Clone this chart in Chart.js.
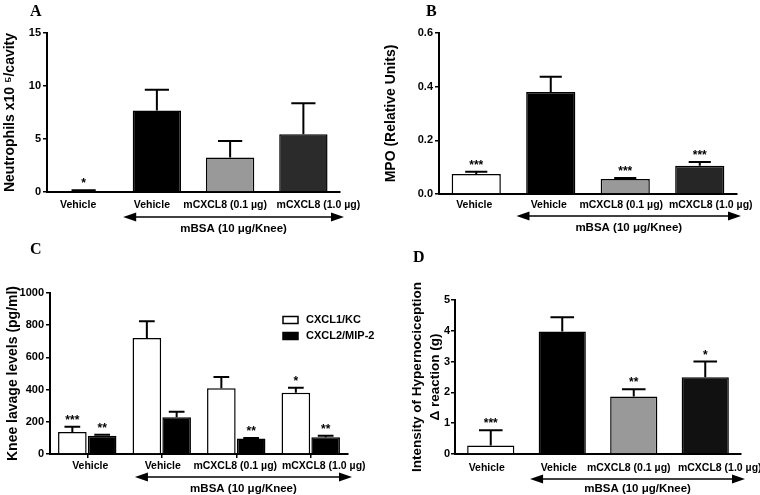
<!DOCTYPE html>
<html lang="en">
<head>
  <meta charset="UTF-8" />
  <title>mCXCL8 panels</title>
  <script src="https://cdn.jsdelivr.net/npm/chart.js"></script>
  <style>
    html, body { margin: 0; padding: 0; background: #fff; }
    #wrap { position: relative; width: 760px; height: 495px; }
    canvas { position: absolute; display: block; }
  </style>
</head>
<body>
  <div id="wrap">
    <canvas id="chartA" width="380" height="240" style="left:0;top:0"></canvas>
    <canvas id="chartB" width="380" height="240" style="left:380px;top:0"></canvas>
    <canvas id="chartC" width="380" height="255" style="left:0;top:240px"></canvas>
    <canvas id="chartD" width="380" height="255" style="left:380px;top:240px"></canvas>
  </div>

  <script>
    // categories
    const groups = ['Vehicle', 'Vehicle', 'mCXCL8 (0.1 µg)', 'mCXCL8 (1.0 µg)'];
    const treatment = 'mBSA (10 μg/Knee)';

    // A - neutrophils
    const neutrophils = [0.05, 7.7, 3.25, 5.45];
    const neutrophilsErr = [0.11, 1.95, 1.57, 2.93];
    const neutrophilsStars = ['*', '', '', ''];

    // B - MPO
    const mpo = [0.075, 0.38, 0.056, 0.105];
    const mpoErr = [0.008, 0.057, 0.004, 0.014];
    const mpoStars = ['***', '', '***', '***'];

    // C - chemokines
    const kc = [137, 720, 408, 380];
    const kcErr = [33, 105, 70, 32];
    const kcStars = ['***', '', '', '*'];
    const mip2 = [114, 229, 96, 104];
    const mip2Err = [6, 33, 4, 9];
    const mip2Stars = ['**', '', '**', '**'];

    // D - hypernociception
    const hyper = [0.28, 3.98, 1.87, 2.49];
    const hyperErr = [0.49, 0.46, 0.23, 0.51];
    const hyperStars = ['***', '', '**', '*'];

    const FONT = '"Liberation Sans", Arial, sans-serif';
    Chart.defaults.font.family = FONT;
    Chart.defaults.color = '#000';

    const extras = {
      id: 'extras',
      afterDatasetsDraw(chart, args, opts) {
        const { ctx, chartArea, scales: { x, y } } = chart;
        ctx.save();
        ctx.strokeStyle = '#000';
        ctx.fillStyle = '#000';

        // error bars + stars
        chart.data.datasets.forEach((ds, di) => {
          const meta = chart.getDatasetMeta(di);
          meta.data.forEach((bar, i) => {
            const top = y.getPixelForValue(ds.data[i] + opts.err[di][i]);
            const half = bar.width * opts.cap / 2;
            ctx.lineWidth = 2;
            ctx.beginPath();
            ctx.moveTo(bar.x, bar.y);
            ctx.lineTo(bar.x, top);
            ctx.moveTo(bar.x - half, top);
            ctx.lineTo(bar.x + half, top);
            ctx.stroke();
            const s = opts.stars[di][i];
            if (s) {
              ctx.font = 'bold 12px ' + FONT;
              ctx.textAlign = 'center';
              ctx.textBaseline = 'alphabetic';
              ctx.fillText(s, bar.x, top - 3);
            }
          });
        });

        // category labels, nudged like the original layout
        ctx.font = 'bold 10.5px ' + FONT;
        ctx.textAlign = 'center';
        ctx.textBaseline = 'middle';
        chart.data.labels.forEach((lab, i) => {
          ctx.fillText(lab, x.getPixelForValue(i) + opts.labelShift[i], chartArea.bottom + opts.labelGap);
        });

        // double arrow under the mBSA groups
        const step = x.getPixelForValue(1) - x.getPixelForValue(0);
        const x1 = x.getPixelForValue(1) - opts.arrowFrom * step;
        const x2 = chartArea.right + 4;
        const ay = chartArea.bottom + opts.arrowGap;
        ctx.lineWidth = 1.5;
        ctx.beginPath();
        ctx.moveTo(x1 + 8, ay);
        ctx.lineTo(x2 - 8, ay);
        ctx.stroke();
        ctx.beginPath();
        ctx.moveTo(x1, ay); ctx.lineTo(x1 + 13, ay - 4.5); ctx.lineTo(x1 + 13, ay + 4.5); ctx.closePath();
        ctx.moveTo(x2, ay); ctx.lineTo(x2 - 13, ay - 4.5); ctx.lineTo(x2 - 13, ay + 4.5); ctx.closePath();
        ctx.fill();

        ctx.font = 'bold 11.5px ' + FONT;
        ctx.fillText(treatment, (x1 + x2) / 2, chartArea.bottom + opts.textGap);

        // panel letter
        ctx.font = 'bold 16px "Liberation Serif", "Times New Roman", serif';
        ctx.textAlign = 'left';
        ctx.textBaseline = 'alphabetic';
        ctx.fillText(opts.letter, opts.letterX, opts.letterY);

        // legend
        if (opts.legend) {
          chart.data.datasets.forEach((ds, di) => {
            const ly = opts.legend.y + di * 16;
            ctx.fillStyle = ds.backgroundColor;
            ctx.fillRect(opts.legend.x, ly - 3.5, 15, 7);
            ctx.lineWidth = 1.5;
            ctx.strokeRect(opts.legend.x, ly - 3.5, 15, 7);
            ctx.fillStyle = '#000';
            ctx.font = 'bold 11px ' + FONT;
            ctx.textBaseline = 'middle';
            ctx.fillText(ds.label, opts.legend.x + 23, ly);
          });
        }
        ctx.restore();
      }
    };

    function makeChart(id, p) {
      return new Chart(document.getElementById(id), {
        type: 'bar',
        data: { labels: groups, datasets: p.datasets },
        options: {
          responsive: false,
          animation: false,
          layout: { padding: { left: 0, top: p.top, right: p.right, bottom: 0 } },
          plugins: {
            legend: { display: false },
            tooltip: { enabled: false },
            extras: p.extras
          },
          scales: {
            x: {
              afterFit: s => { s.height = p.xHeight; },
              grid: {
                display: !!p.xTicks, drawOnChartArea: false, drawTicks: !!p.xTicks,
                tickLength: 4, offset: false, color: '#000', lineWidth: 1.5
              },
              border: { display: true, color: '#000', width: 2 },
              ticks: { display: false }
            },
            y: {
              min: 0,
              max: p.max,
              afterFit: s => { s.width = p.yWidth; },
              grid: { drawOnChartArea: false, drawTicks: true, tickLength: 4, color: '#000', lineWidth: 1.5 },
              border: { display: true, color: '#000', width: 2 },
              ticks: {
                stepSize: p.step, padding: p.tickPad || 2,
                font: { size: 11, weight: 'bold' },
                callback: p.fmt || (v => v)
              },
              title: {
                display: true,
                text: p.title,
                font: { size: p.titleSize || 14, weight: 'bold', lineHeight: p.titleLH || 1.2 },
                padding: { top: p.titlePad, bottom: 0 }
              }
            }
          }
        },
        plugins: [extras]
      });
    }

    makeChart('chartA', {
      datasets: [{
        data: neutrophils,
        backgroundColor: ['#ffffff', '#000000', '#999999', '#2b2b2b'],
        borderColor: '#000', borderWidth: 1.5,
        barPercentage: 0.66, categoryPercentage: 1
      }],
      top: 33, right: 40, yWidth: 47, xHeight: 48,
      max: 15, step: 5,
      title: 'Neutrophils x10 ⁵/cavity', titlePad: 1.5,
      extras: { err: [neutrophilsErr], stars: [neutrophilsStars], cap: 0.5,
                labelShift: [-5.5, -5, -5, 15], labelGap: 13,
                arrowFrom: 0.46, arrowGap: 25, textGap: 37, letter: 'A', letterX: 30, letterY: 16 }
    });

    makeChart('chartB', {
      datasets: [{
        data: mpo,
        backgroundColor: ['#ffffff', '#000000', '#999999', '#262626'],
        borderColor: '#000', borderWidth: 1.5,
        barPercentage: 0.66, categoryPercentage: 1
      }],
      top: 33, right: 23, yWidth: 59, xHeight: 46,
      max: 0.6, step: 0.2, fmt: v => v.toFixed(1),
      title: 'MPO (Relative Units)', titlePad: 3,
      extras: { err: [mpoErr], stars: [mpoStars], cap: 0.45,
                labelShift: [-2, -2, -4, 11], labelGap: 11,
                arrowFrom: 0.46, arrowGap: 22, textGap: 34, letter: 'B', letterX: 46, letterY: 16 }
    });

    makeChart('chartC', {
      datasets: [
        { label: 'CXCL1/KC', data: kc, backgroundColor: '#ffffff', borderColor: '#000', borderWidth: 1.5,
          barPercentage: 0.96, categoryPercentage: 0.8 },
        { label: 'CXCL2/MIP-2', data: mip2, backgroundColor: '#000000', borderColor: '#000', borderWidth: 1.5,
          barPercentage: 0.96, categoryPercentage: 0.8 }
      ],
      top: 53, right: 32, yWidth: 50, xHeight: 41, xTicks: true,
      max: 1000, step: 200,
      title: 'Knee lavage levels (pg/ml)', titlePad: 4.6,
      extras: { err: [kcErr, mip2Err], stars: [kcStars, mip2Stars], cap: 0.55,
                labelShift: [3, 1, -1, 13], labelGap: 12,
                arrowFrom: 0.36, arrowGap: 23, textGap: 35, letter: 'C', letterX: 30, letterY: 14,
                legend: { x: 283, y: 80 } }
    });

    makeChart('chartD', {
      datasets: [{
        data: hyper,
        backgroundColor: ['#ffffff', '#000000', '#999999', '#111111'],
        borderColor: '#000', borderWidth: 1.5,
        barPercentage: 0.66, categoryPercentage: 1
      }],
      top: 60, right: 19, yWidth: 75, xHeight: 41, tickPad: 1,
      max: 5, step: 1,
      title: ['Intensity of Hypernociception', 'Δ reaction (g)'], titleSize: 13.5, titleLH: 1.33, titlePad: 28.5,
      extras: { err: [hyperErr], stars: [hyperStars], cap: 0.5,
                labelShift: [-4, -3.5, -5, 14.5], labelGap: 14,
                arrowFrom: 0.45, arrowGap: 25, textGap: 35, letter: 'D', letterX: 33, letterY: 22 }
    });
  </script>
</body>
</html>
